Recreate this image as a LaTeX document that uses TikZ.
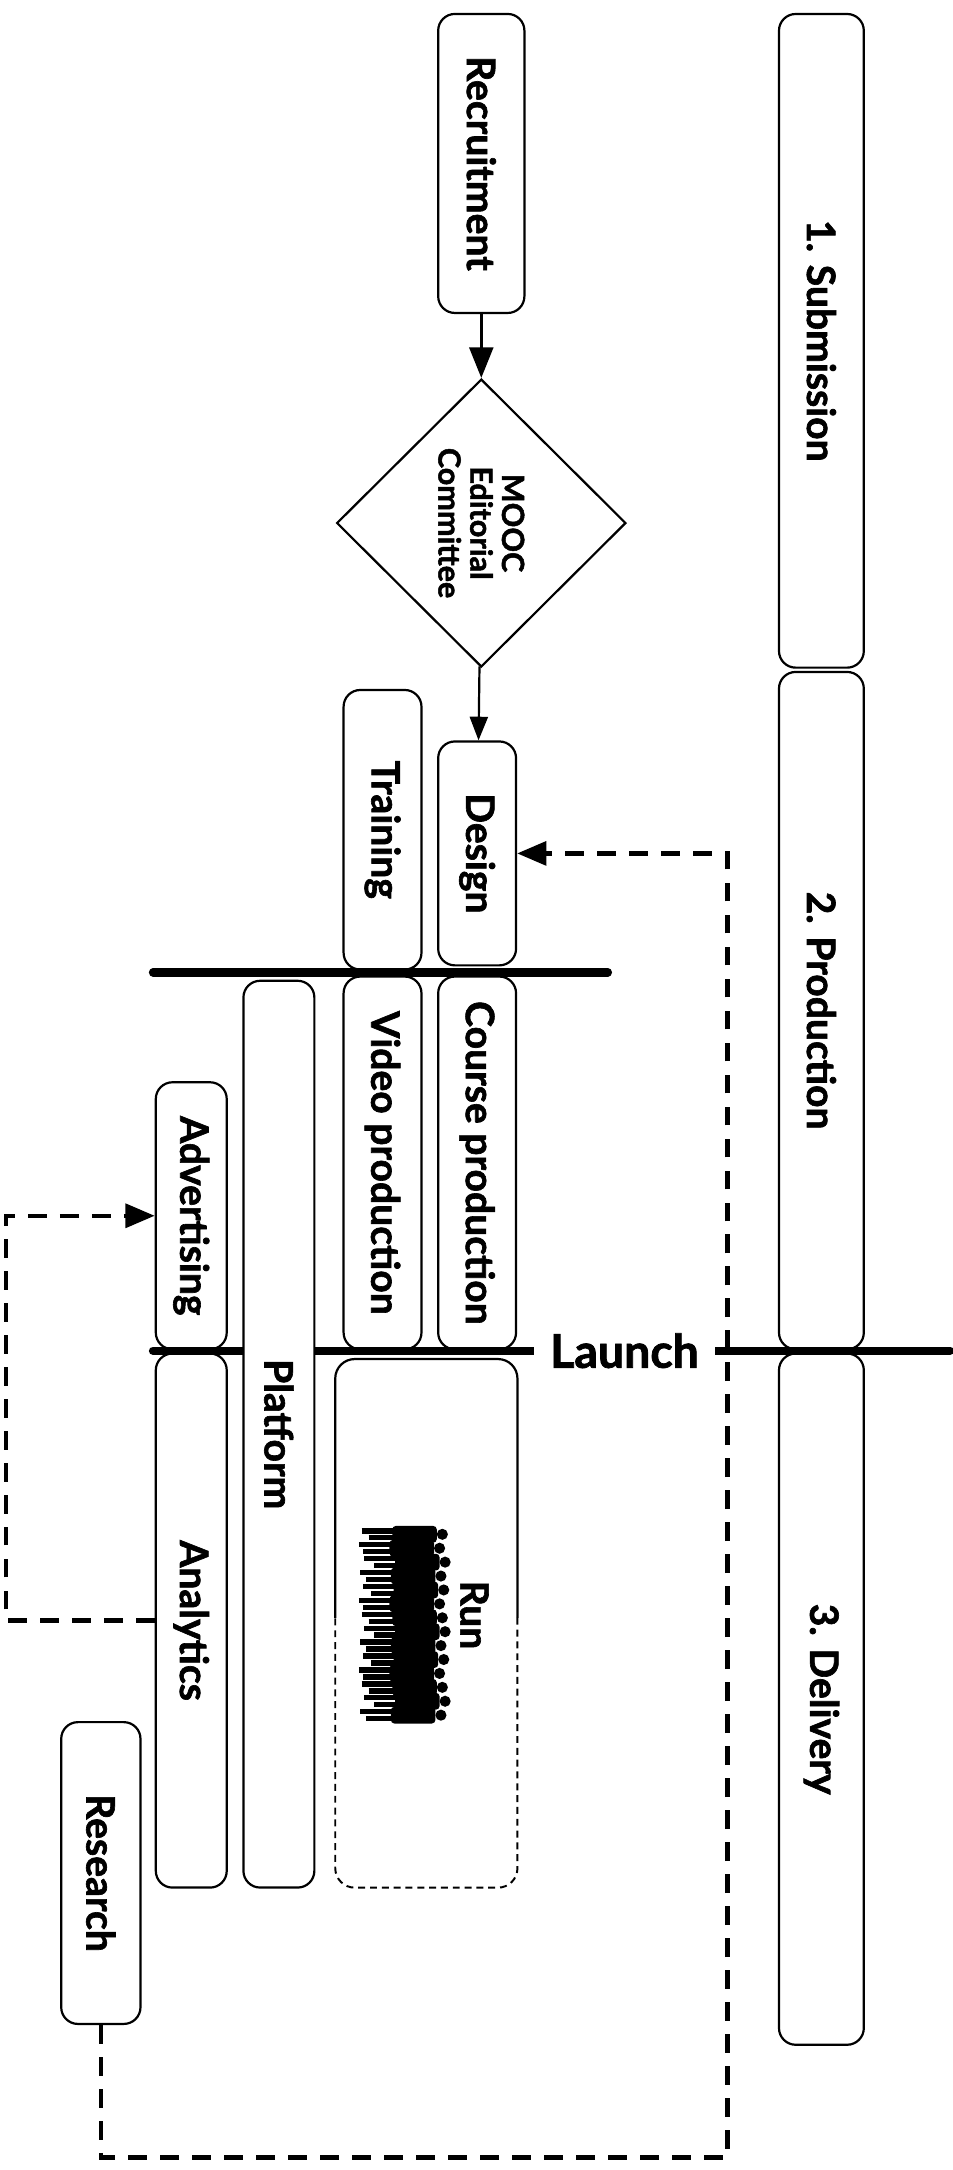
\documentclass[tikz,border=0pt]{standalone}
\usepackage{fontspec}
\setmainfont{Lato}[BoldFeatures={FakeBold=1.6}]
\usetikzlibrary{shapes.geometric,arrows.meta}

\begin{document}
\begin{tikzpicture}[x=0.02cm, y=-0.02cm, >={Triangle[length=0.42cm,width=0.34cm]},
   box/.style 2 args={draw, fill=white, line width=0.9pt, rounded corners=0.24cm, rotate=-90, inner sep=0pt,
      minimum width=#1, minimum height=#2, font=\fontsize{16}{19}\selectfont\bfseries},
   bar/.style={line width=3.4pt, line cap=round},
   link/.style={line width=1.8pt, dash pattern=on 0.27cm off 0.19cm}]
   \useasboundingbox (0,0) rectangle (685.1,1560);
   \node[box={4.30cm}{1.24cm}] (rec)    at (346,117.5)  {Recruitment};
   \node[draw, diamond, rotate=-90, line width=0.9pt, minimum width=4.14cm, minimum height=4.16cm, inner sep=0pt,
      align=center, font=\fontsize{12.5}{13}\selectfont\bfseries] (mooc) at (346,376) {MOOC\\Editorial\\Committee};
   \node[box={3.22cm}{1.12cm}] (design) at (343,613.5)  {Design};
   \node[box={4.02cm}{1.12cm}] (train)  at (275,596.5)  {Training};
   \node[box={5.36cm}{1.12cm}] (course) at (343,836)    {Course production};
   \node[box={5.36cm}{1.12cm}] (video)  at (275,836)    {Video production};
   \node[box={3.84cm}{1.02cm}] (adv)    at (137.5,874)  {Advertising};
   \node[box={7.68cm}{1.02cm}] (ana)    at (137.5,1165) {Analytics};
   \node[box={4.34cm}{1.14cm}] (res)    at (72.5,1346.5) {Research};
   \node[box={9.40cm}{1.22cm}] (p_1)    at (590.5,245)   {1. Submission};
   \node[box={9.74cm}{1.22cm}] (p_2)    at (590.5,726.5) {2. Production};
   \node[box={9.94cm}{1.22cm}] (p_3)    at (590.5,1221.5) {3. Delivery};

   \draw[bar] (110,699) -- (437,699);
   \draw[bar] (110,971) -- (683,971);
   \node[fill=white, inner xsep=0.23cm, inner ysep=0.05cm, font=\fontsize{19}{22}\selectfont\bfseries] (launch) at (449,971) {Launch};
   \node[box={13.04cm}{1.02cm}] (plat) at (200.5,1031) {Platform};

   \draw[line width=0.9pt, rounded corners=0.28cm] (241,1163) -- (241,977) -- (372,977) -- (372,1163);
   \draw[line width=0.8pt, dash pattern=on 0.1cm off 0.07cm, rounded corners=0.28cm] (372,1163) -- (372,1357) -- (241,1357) -- (241,1163);
   \node[rotate=-90, font=\fontsize{16}{19}\selectfont\bfseries] (run) at (341,1161) {Run};
   \foreach \yy/\dx in {1103/2,1113/0,1123/4,1133/1,1143/3,1153/0,1163/2,1173/4,1183/1,1193/3,1203/0,1213/2,1223/4,1233/1} {
      \fill[rounded corners=0.05cm] ({280+\dx},{\yy-6}) rectangle ({312+\dx},{\yy+6});
      \fill ({316+\dx},\yy) circle (0.08cm);
      \draw[line width=2.2pt] ({258+\dx},{\yy-2.5}) -- (286,{\yy-2.5}) ({261+2*\dx},{\yy+2.5}) -- (286,{\yy+2.5});
   }

   \path[->]
    (rec)  edge [line width=1.4pt, >={Triangle[length=0.44cm,width=0.34cm]}] (mooc)
    (mooc) edge [line width=0.9pt, >={Triangle[length=0.34cm,width=0.26cm]}] (design);
   \coordinate (c_1) at (523,1551);
   \draw[link, ->] (res.east) |- (c_1) |- (design.north);
   \draw[link, ->] (ana.south) -- ++(-107,0) |- (adv.south);
\end{tikzpicture}
\end{document}
